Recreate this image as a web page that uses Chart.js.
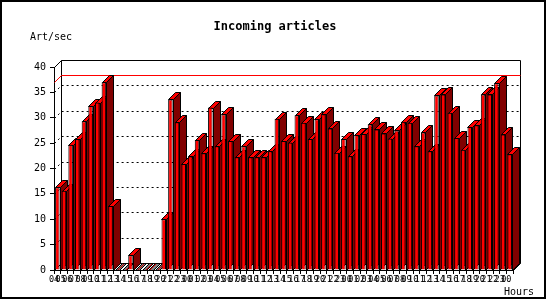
<!DOCTYPE html>
<html><head><meta charset="utf-8">
<script src="https://cdn.jsdelivr.net/npm/chart.js@4"></script>
<style>html,body{margin:0;padding:0;background:#fff}#wrap{width:550px;height:300px;position:relative}</style>
</head><body><div id="wrap"><canvas id="c"></canvas></div>
<script>
const hours = ["04","05","06","07","08","09","10","11","12","13","14","15","16","17","18","19","20","21","22","23",
  "00","01","02","03","04","05","06","07","08","09","10","11","12","13","14","15","16","17","18","19","20","21","22","23",
  "00","01","02","03","04","05","06","07","08","09","10","11","12","13","14","15","16","17","18","19","20","21","22","23",
  "00"];
const artPerSec = [16.3,15.6,24.7,25.8,29.3,32.3,33.0,37.0,12.6,0,0,2.9,0,0,0,0,10.0,33.6,29.1,20.9,
  22.4,25.6,23.0,32.0,24.4,30.7,25.4,22.2,24.4,22.2,22.2,22.2,23.4,29.8,25.4,25.1,30.5,29.0,25.8,29.7,30.7,27.9,23.1,25.8,
  22.4,26.6,26.8,28.7,27.7,26.9,25.9,27.5,29.2,29.0,24.4,27.1,23.4,34.4,34.6,31.0,26.0,23.7,28.2,28.5,34.6,34.6,36.8,26.7,
  22.8];
const yMin = 0, yMax = 40, yStep = 5;
const chartTitle = 'Incoming articles';
const yUnit = 'Art/sec';
const xUnit = 'Hours';

const D = 7;
const MONO = '"DejaVu Sans Mono", "Liberation Mono", monospace';

function hatch(ctx) {
  const c = document.createElement('canvas'); c.width = 4; c.height = 4;
  const g = c.getContext('2d');
  g.fillStyle = '#808080'; g.fillRect(0,0,4,4);
  g.fillStyle = '#cc0000';
  for (let i = 0; i < 4; i++) { g.fillRect(3 - i, i, 1, 1); }
  return ctx.createPattern(c, 'repeat');
}

const threeD = {
  id: 'threeD',
  beforeDraw(chart) {
    const ctx = chart.ctx;
    ctx.save(); ctx.fillStyle = '#fff'; ctx.fillRect(0, 0, chart.width, chart.height); ctx.restore();
  },
  beforeDatasetsDraw(chart) {
    const { ctx, chartArea: a, scales: { y } } = chart;
    ctx.save();
    ctx.lineWidth = 1;
    const L = Math.round(a.left) + 0.5, R = Math.round(a.right) + 0.5;
    const top = Math.round(y.getPixelForValue(yMax)) + 0.5;
    const bot = Math.round(y.getPixelForValue(yMin)) + 0.5;
    ctx.strokeStyle = '#000';
    ctx.setLineDash([2, 3]);
    for (let v = yMin + yStep; v < yMax; v += yStep) {
      const py = Math.round(y.getPixelForValue(v)) + 0.5;
      ctx.beginPath();
      ctx.moveTo(L, py); ctx.lineTo(L + D, py - D); ctx.lineTo(R + D, py - D);
      ctx.stroke();
    }
    ctx.setLineDash([]);
    ctx.beginPath();
    ctx.moveTo(L, top); ctx.lineTo(L + D, top - D); ctx.lineTo(R + D, top - D);
    ctx.lineTo(R + D, bot - D); ctx.lineTo(R, bot);
    ctx.moveTo(L, bot); ctx.lineTo(L + D, bot - D); ctx.lineTo(R + D, bot - D);
    ctx.moveTo(L + D, bot - D); ctx.lineTo(L + D, top - D);
    ctx.stroke();
    const maxV = Math.max(...artPerSec);
    const my = Math.round(y.getPixelForValue(maxV)) + 0.5;
    ctx.strokeStyle = '#ff0000';
    ctx.beginPath();
    ctx.moveTo(L, my); ctx.lineTo(L + D, my - D); ctx.lineTo(R + D, my - D);
    ctx.stroke();
    const pat = hatch(ctx);
    const meta = chart.getDatasetMeta(0);
    ctx.strokeStyle = '#000';
    meta.data.forEach((el) => {
      const p = el.getProps(['x', 'y', 'base', 'width'], true);
      const xl = Math.round(p.x - p.width / 2) + 0.5, xr = Math.round(p.x + p.width / 2) + 0.5;
      const ty = Math.round(p.y) + 0.5, bs = Math.round(p.base) + 0.5;
      if (bs - ty > 0.5) {
        ctx.fillStyle = '#800000';
        ctx.beginPath();
        ctx.moveTo(xr, ty); ctx.lineTo(xr + D, ty - D); ctx.lineTo(xr + D, bs - D); ctx.lineTo(xr, bs);
        ctx.closePath(); ctx.fill(); ctx.stroke();
        ctx.fillStyle = '#ff0000';
      } else {
        ctx.fillStyle = pat;
      }
      ctx.beginPath();
      ctx.moveTo(xl, ty); ctx.lineTo(xl + D, ty - D); ctx.lineTo(xr + D, ty - D); ctx.lineTo(xr, ty);
      ctx.closePath(); ctx.fill(); ctx.stroke();
    });
    ctx.restore();
  },
  afterDraw(chart) {
    const ctx = chart.ctx;
    ctx.save();
    ctx.fillStyle = '#000';
    ctx.textBaseline = 'middle';
    ctx.textAlign = 'center';
    ctx.font = 'bold 12px ' + MONO;
    ctx.fillText(chartTitle, 275, 27);
    ctx.font = '10px ' + MONO;
    ctx.textAlign = 'left';
    ctx.fillText(yUnit, 30, 37);
    ctx.textAlign = 'right';
    ctx.fillText(xUnit, 534, 292);
    ctx.strokeStyle = '#000';
    ctx.lineWidth = 2;
    ctx.strokeRect(1, 1, 544, 297);
    ctx.restore();
  }
};

new Chart(document.getElementById('c'), {
  type: 'bar',
  data: {
    labels: hours,
    datasets: [{
      data: artPerSec,
      backgroundColor: '#ff0000',
      borderColor: '#000',
      borderWidth: 1,
      borderSkipped: 'start',
      categoryPercentage: 1,
      barPercentage: 0.68
    }]
  },
  options: {
    responsive: true,
    maintainAspectRatio: false,
    animation: false,
    devicePixelRatio: 1,
    layout: { padding: { left: 0, right: 37, top: 67, bottom: 0 } },
    plugins: {
      legend: { display: false },
      tooltip: { enabled: false },
      title: { display: false }
    },
    scales: {
      x: {
        offset: true,
        grid: { offset: true, drawOnChartArea: false, color: '#000', tickLength: 4 },
        border: { display: true, color: '#000' },
        ticks: { autoSkip: false, maxRotation: 0, minRotation: 0, color: '#000',
          font: { family: MONO, size: 8.5 }, padding: 1, labelOffset: -3.33 },
        afterFit(s) { s.height = 30; }
      },
      y: {
        min: yMin, max: yMax,
        grid: { drawOnChartArea: false, color: '#000', tickLength: 4 },
        border: { display: true, color: '#000' },
        ticks: { stepSize: yStep, color: '#000', font: { family: MONO, size: 10 }, padding: 4 },
        afterFit(s) { s.width = 54; }
      }
    }
  },
  plugins: [threeD]
});
</script>
</body></html>
